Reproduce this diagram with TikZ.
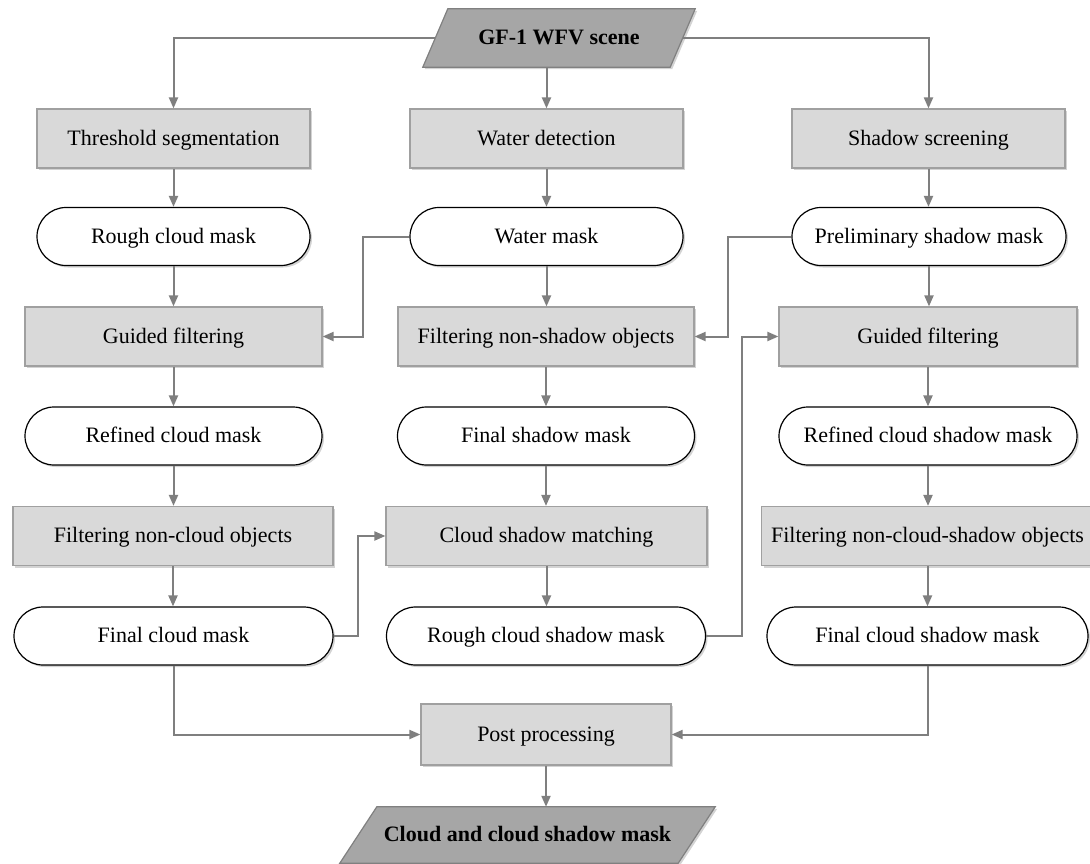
\documentclass[tikz,border=0pt]{standalone}
\usepackage{fontspec}
\setmainfont{Liberation Serif}
\usetikzlibrary{arrows.meta,shadows,backgrounds,calc}
\definecolor{boxfill}{HTML}{D9D9D9}
\definecolor{boxdraw}{HTML}{A0A0A0}
\definecolor{arrgray}{HTML}{7F7F7F}
\definecolor{iofill}{HTML}{A6A6A6}
\definecolor{iodraw}{HTML}{808080}
\begin{document}
\begin{tikzpicture}[x=1pt,y=-1pt,
  font=\fontsize{22}{26}\selectfont,
  txt/.style={text height=17pt, text depth=4pt},
  shad/.style={drop shadow={shadow xshift=2pt, shadow yshift=-2pt, opacity=0.35}},
  proc/.style={rectangle, draw=boxdraw, line width=1.2pt, fill=boxfill,
    minimum height=59pt, inner sep=0pt, txt, shad},
  mask/.style={rectangle, rounded corners=29pt, draw=black, line width=1.2pt,
    fill=white, minimum height=58pt, inner sep=0pt, txt, shad},
  io/.style={inner sep=0pt, txt, font=\fontsize{22}{26}\selectfont\bfseries},
  iobox/.style={draw=iodraw, line width=1.2pt, fill=iofill, shad},
  arr/.style={draw=arrgray, line width=2pt, -{Triangle[length=11pt,width=9pt]}}
]
\useasboundingbox (0,0) rectangle (1090,863);

% input / output
\node[io, minimum width=247pt, minimum height=58pt] (gf) at (559,38) {GF-1 WFV scene};
\node[io, minimum width=338pt, minimum height=56pt] (out) at (527.5,835) {Cloud and cloud shadow mask};
\begin{scope}[on background layer]
\draw[iobox] ($(gf.north west)+(12.5,0)$) -- ($(gf.north east)+(12.5,0)$)
  -- ($(gf.south east)+(-12.5,0)$) -- ($(gf.south west)+(-12.5,0)$) -- cycle;
\draw[iobox] ($(out.north west)+(18.5,0)$) -- ($(out.north east)+(18.5,0)$)
  -- ($(out.south east)+(-18.5,0)$) -- ($(out.south west)+(-18.5,0)$) -- cycle;
\end{scope}

% row 1
\node[proc, minimum width=273pt] (ts) at (173.5,138.5) {Threshold segmentation};
\node[proc, minimum width=273pt] (wd) at (546.5,138.5) {Water detection};
\node[proc, minimum width=273pt] (ss) at (928.5,138.5) {Shadow screening};
% row 2
\node[mask, minimum width=273pt] (rcm) at (173.5,236.5) {Rough cloud mask};
\node[mask, minimum width=273pt] (wm) at (546.5,236.5) {Water mask};
\node[mask, minimum width=274pt] (psm) at (929,236.5) {Preliminary shadow mask};
% row 3
\node[proc, minimum width=297pt] (gfl) at (173.5,336.5) {Guided filtering};
\node[proc, minimum width=296pt] (fns) at (546,336.5) {Filtering non-shadow objects};
\node[proc, minimum width=298pt] (gfr) at (928,336.5) {Guided filtering};
% row 4
\node[mask, minimum width=297pt] (rfcm) at (173.5,436) {Refined cloud mask};
\node[mask, minimum width=297pt] (fsm) at (546,436) {Final shadow mask};
\node[mask, minimum width=298pt] (rcsm) at (928,436) {Refined cloud shadow mask};
% row 5
\node[proc, minimum width=320pt] (fnc) at (173,536) {Filtering non-cloud objects};
\node[proc, minimum width=321pt] (csmt) at (546.5,536) {Cloud shadow matching};
\node[proc, minimum width=332pt] (fncs) at (927.5,536) {Filtering non-cloud-shadow objects};
% row 6
\node[mask, minimum width=319pt] (fcm) at (173.5,636) {Final cloud mask};
\node[mask, minimum width=319pt] (rcsh) at (546,636) {Rough cloud shadow mask};
\node[mask, minimum width=321pt] (fcsm) at (927.5,636) {Final cloud shadow mask};
% row 7
\node[proc, minimum width=250pt, minimum height=61pt] (pp) at (546,734.5) {Post processing};

% connectors from input
\draw[arr] (gf.south -| wd.north) -- (wd.north);
\draw[arr] (gf.west) -| (ts.north);
\draw[arr] (gf.east) -| (ss.north);

% left column
\draw[arr] (ts.south) -- (ts.south |- rcm.north);
\draw[arr] (rcm.south) -- (rcm.south |- gfl.north);
\draw[arr] (gfl.south) -- (gfl.south |- rfcm.north);
\draw[arr] (rfcm.south) -- (rfcm.south |- fnc.north);
\draw[arr] (fnc.south) -- (fnc.south |- fcm.north);
% middle column
\draw[arr] (wd.south) -- (wd.south |- wm.north);
\draw[arr] (wm.south) -- (wm.south |- fns.north);
\draw[arr] (fns.south) -- (fns.south |- fsm.north);
\draw[arr] (fsm.south) -- (fsm.south |- csmt.north);
\draw[arr] (csmt.south) -- (csmt.south |- rcsh.north);
% right column
\draw[arr] (ss.south) -- (ss.south |- psm.north);
\draw[arr] (psm.south) -- (psm.south |- gfr.north);
\draw[arr] (gfr.south) -- (gfr.south |- rcsm.north);
\draw[arr] (rcsm.south) -- (rcsm.south |- fncs.north);
\draw[arr] (fncs.south) -- (fncs.south |- fcsm.north);

% cross connectors
\draw[arr] (wm.west) -- ++(-46,0) |- (gfl.east);
\draw[arr] (psm.west) -- ++(-63.5,0) |- (fns.east);
\draw[arr] (fcm.east) -- ++(24,0) |- (csmt.west);
\draw[arr] (rcsh.east) -- ++(35.5,0) |- (gfr.west);

% to post processing
\draw[arr] (fcm.south) |- (pp.west);
\draw[arr] (fcsm.south) |- (pp.east);
\draw[arr] (pp.south) -- (pp.south |- out.north);
\end{tikzpicture}
\end{document}
